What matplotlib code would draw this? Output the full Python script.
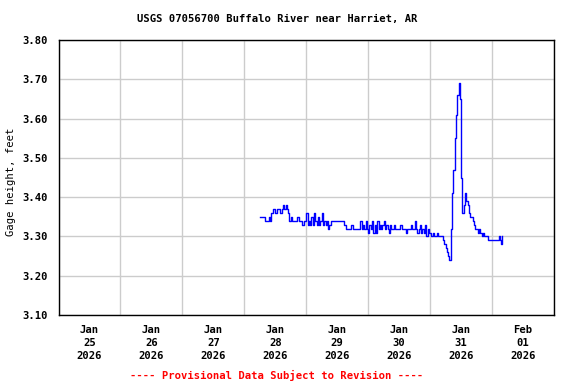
import numpy as np
import pandas as pd
import matplotlib
matplotlib.use("Agg")
import matplotlib.pyplot as plt
import matplotlib.dates as mdates

# gage height, feet, every 30 min starting Jan 28 2026 06:00
start_time = "2026-01-28 06:00"
gage_height = [
    3.35, 3.35, 3.35, 3.35, 3.34,
    3.34, 3.34, 3.35, 3.34, 3.36,
    3.37, 3.37, 3.36, 3.37, 3.37, 3.37, 3.36, 3.37, 3.38, 3.37,
    3.38, 3.37, 3.36, 3.34,
    3.35, 3.34, 3.34, 3.34, 3.34, 3.35, 3.34, 3.34, 3.34, 3.33, 3.34, 3.34,
    3.36, 3.33, 3.34, 3.33, 3.35, 3.33, 3.36, 3.34, 3.33, 3.35, 3.33, 3.34,
    3.36, 3.33, 3.34, 3.33, 3.34,
    3.32, 3.33, 3.34,
    3.34, 3.34, 3.34, 3.34, 3.34, 3.34, 3.34, 3.34, 3.34, 3.33, 3.33,
    3.32, 3.32, 3.32, 3.32, 3.33, 3.32, 3.32, 3.32, 3.32, 3.32, 3.32,
    3.34, 3.32, 3.33, 3.32, 3.34, 3.32, 3.31, 3.33, 3.32, 3.34, 3.31, 3.33,
    3.31, 3.34, 3.32, 3.33,
    3.32, 3.33, 3.34, 3.32, 3.33, 3.32, 3.31, 3.33, 3.32, 3.32,
    3.33, 3.32, 3.32, 3.32, 3.32, 3.33, 3.32, 3.32, 3.32, 3.31,
    3.32, 3.32, 3.32, 3.33, 3.32, 3.32, 3.34, 3.32, 3.31, 3.32,
    3.33, 3.31, 3.32, 3.31, 3.33, 3.30, 3.32, 3.31,
    3.31, 3.30, 3.31, 3.30, 3.30, 3.31, 3.30, 3.30, 3.30, 3.30,
    3.29, 3.28, 3.27, 3.26, 3.25, 3.24,
    3.32, 3.41, 3.47, 3.55, 3.61, 3.66, 3.69, 3.65, 3.45, 3.36,
    3.38, 3.41, 3.39, 3.38, 3.36, 3.35, 3.35, 3.34, 3.33,
    3.32, 3.32, 3.31, 3.32, 3.31, 3.30, 3.31, 3.30, 3.30,
    3.30, 3.29, 3.29, 3.29, 3.29, 3.29, 3.29, 3.29, 3.29, 3.30, 3.29, 3.28, 3.30,
]
times = pd.date_range(start_time, periods=len(gage_height), freq="30min")

y_ticks = [3.10, 3.20, 3.30, 3.40, 3.50, 3.60, 3.70, 3.80]
day_labels = ["Jan\n25\n2026", "Jan\n26\n2026", "Jan\n27\n2026", "Jan\n28\n2026",
              "Jan\n29\n2026", "Jan\n30\n2026", "Jan\n31\n2026", "Feb\n01\n2026"]
label_times = pd.date_range("2026-01-25 12:00", periods=len(day_labels), freq="D")

plt.rcParams["font.family"] = "DejaVu Sans Mono"
plt.rcParams["font.weight"] = "bold"
plt.rcParams["font.size"] = 7.6

fig = plt.figure(figsize=(5.76, 3.84), dpi=100)
ax = fig.add_axes([58.5 / 576, 1 - 315 / 384, 495.5 / 576, 275 / 384])

ax.plot(times, gage_height, color="#0000ff", lw=1, drawstyle="steps-post")

ax.set_xlim(pd.Timestamp("2026-01-25 00:00"), pd.Timestamp("2026-02-02 00:00"))
ax.set_ylim(3.10, 3.80)
ax.set_yticks(y_ticks)
ax.yaxis.set_major_formatter(matplotlib.ticker.FormatStrFormatter("%.2f"))

ax.xaxis.set_major_locator(mdates.DayLocator())
ax.xaxis.set_major_formatter(matplotlib.ticker.NullFormatter())
ax.set_xticks(label_times, day_labels, minor=True, linespacing=1.38)

ax.grid(True, which="major", color="#cccccc", lw=1)
ax.set_axisbelow(True)
ax.tick_params(which="both", length=0)
ax.tick_params(axis="y", pad=8)
ax.tick_params(axis="x", which="minor", pad=7)
for s in ax.spines.values():
    s.set_color("black")
    s.set_linewidth(1)

ax.set_ylabel("Gage height, feet")
ax.yaxis.set_label_coords(-0.085, 0.485)
fig.text(277 / 576, 1 - 19 / 384, "USGS 07056700 Buffalo River near Harriet, AR",
         ha="center", va="center")
fig.text(277 / 576, 1 - 375 / 384, "---- Provisional Data Subject to Revision ----",
         ha="center", va="center", color="red")

fig.savefig("out.png", dpi=100)
